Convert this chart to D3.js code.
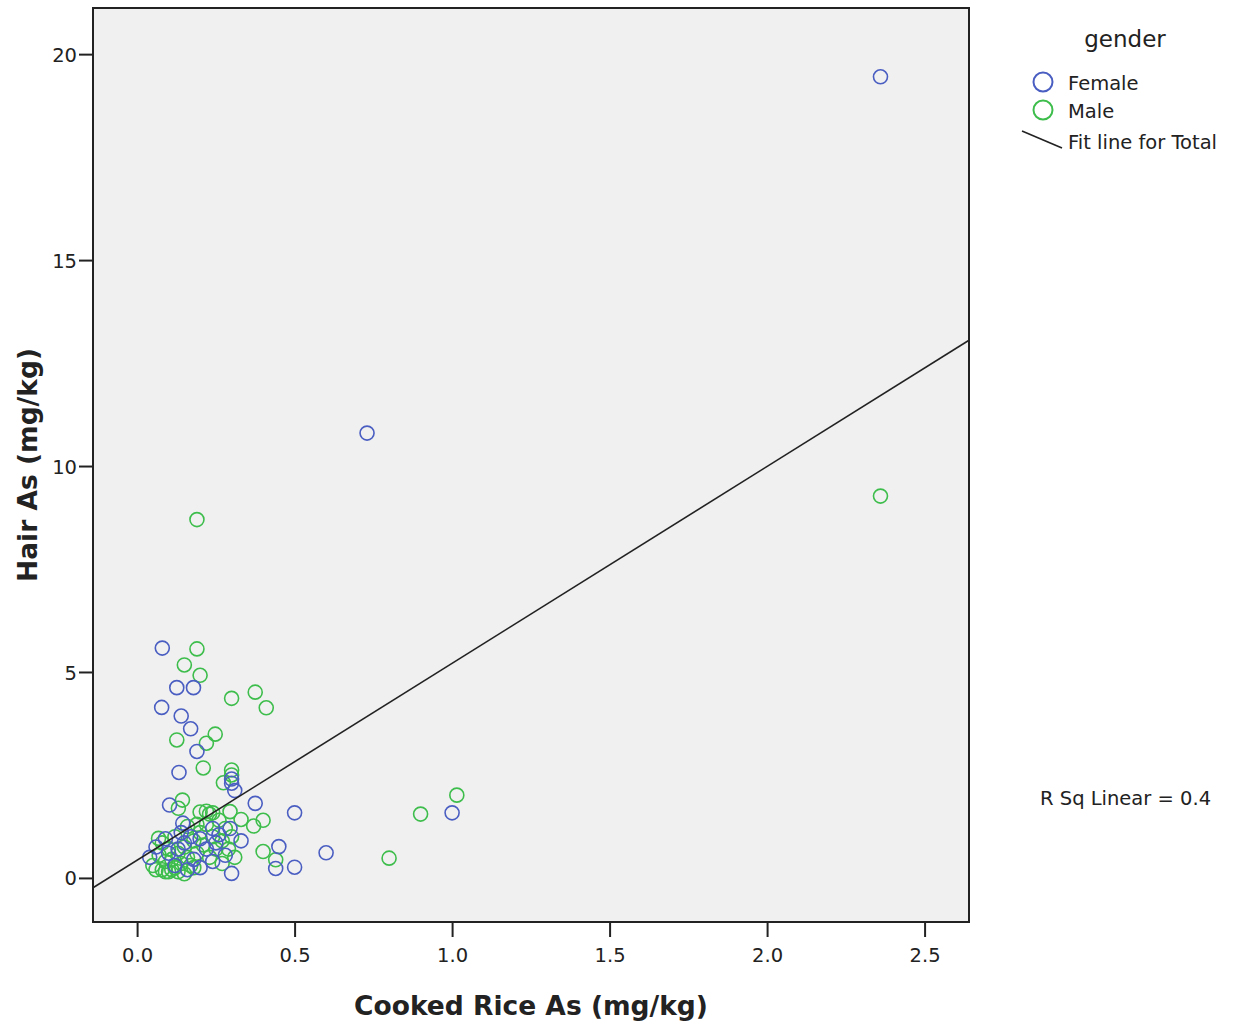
<!DOCTYPE html>
<html>
<head>
<meta charset="utf-8">
<script src="https://cdn.jsdelivr.net/npm/d3@7"></script>
<style>
  body { margin: 0; background: #fff; }
  text { font-family: "DejaVu Sans", Verdana, sans-serif; fill: #222; }
</style>
</head>
<body>
<svg id="chart" width="1246" height="1027"></svg>
<script>
// Cooked rice As (x) vs hair As (y), mg/kg
const female = [
  [2.36, 19.45], [0.73, 10.80], [0.08, 5.58], [0.126, 4.62], [0.179, 4.62],
  [0.078, 4.14], [0.14, 3.93], [0.17, 3.62], [0.19, 3.07], [0.133, 2.56],
  [0.30, 2.40], [0.31, 2.12], [0.30, 2.30], [0.103, 1.77], [0.375, 1.81],
  [0.50, 1.58], [1.00, 1.58], [0.145, 1.33], [0.295, 1.20], [0.33, 0.90],
  [0.45, 0.76], [0.60, 0.61], [0.44, 0.23], [0.50, 0.26], [0.30, 0.11],
  [0.04, 0.50], [0.06, 0.75], [0.10, 0.60], [0.14, 1.10], [0.15, 0.85],
  [0.18, 0.45], [0.20, 0.95], [0.22, 0.70], [0.24, 0.40], [0.25, 0.85],
  [0.26, 1.05], [0.12, 0.30], [0.16, 0.20], [0.28, 0.55], [0.20, 0.25],
  [0.09, 0.95], [0.24, 1.20], [0.13, 0.70], [0.17, 1.00]
];
const male = [
  [2.36, 9.27], [0.19, 8.70], [0.19, 5.56], [0.15, 5.17], [0.20, 4.92],
  [0.30, 4.36], [0.375, 4.51], [0.41, 4.13], [0.126, 3.35], [0.248, 3.49],
  [0.22, 3.27], [0.21, 2.67], [0.30, 2.62], [0.274, 2.31], [0.30, 2.50],
  [0.144, 1.89], [0.131, 1.69], [0.20, 1.60], [0.22, 1.62], [0.24, 1.58],
  [0.295, 1.61], [0.33, 1.42], [0.37, 1.26], [0.40, 1.40], [0.40, 0.64],
  [0.44, 0.44], [0.31, 0.50], [0.80, 0.48], [0.90, 1.55], [1.015, 2.01],
  [0.068, 0.96], [0.05, 0.30], [0.07, 0.55], [0.08, 0.20], [0.09, 0.40],
  [0.10, 0.15], [0.10, 0.70], [0.11, 0.45], [0.12, 0.25], [0.13, 0.60],
  [0.14, 0.35], [0.15, 0.10], [0.15, 0.75], [0.16, 0.50], [0.17, 0.30],
  [0.18, 0.90], [0.19, 0.60], [0.20, 1.10], [0.21, 0.80], [0.22, 1.30],
  [0.23, 0.50], [0.24, 1.00], [0.25, 0.70], [0.26, 1.40], [0.27, 0.90],
  [0.28, 1.20], [0.29, 0.70], [0.30, 1.00], [0.12, 1.00], [0.08, 0.85],
  [0.09, 0.15], [0.11, 0.20], [0.13, 0.15], [0.06, 0.20], [0.18, 0.25],
  [0.16, 1.25], [0.27, 0.35], [0.23, 1.55], [0.19, 1.30]
];
const xTicks = [0.0, 0.5, 1.0, 1.5, 2.0, 2.5];
const yTicks = [0, 5, 10, 15, 20];
// fit line for total: y = intercept + slope * x
const fitIntercept = 0.43;
const fitSlope = 4.78;
const rSq = 0.4;

const colors = { Female: '#4a5ec2', Male: '#3dbd4b' };

const svg = d3.select('#chart');
const plot = { left: 93, top: 8, right: 969, bottom: 922 };

const x = d3.scaleLinear().domain([-0.14, 2.641]).range([plot.left, plot.right]);
const y = d3.scaleLinear().domain([-1.07, 21.12]).range([plot.bottom, plot.top]);

svg.append('rect')
  .attr('x', plot.left).attr('y', plot.top)
  .attr('width', plot.right - plot.left).attr('height', plot.bottom - plot.top)
  .attr('fill', '#f0f0f0');

svg.append('clipPath').attr('id', 'plotClip')
  .append('rect')
  .attr('x', plot.left).attr('y', plot.top)
  .attr('width', plot.right - plot.left).attr('height', plot.bottom - plot.top);

// axes
const xAxis = svg.append('g')
  .attr('transform', 'translate(0,' + plot.bottom + ')')
  .call(d3.axisBottom(x).tickValues(xTicks).tickFormat(d3.format('.1f')).tickSize(15).tickSizeOuter(0));
const yAxis = svg.append('g')
  .attr('transform', 'translate(' + plot.left + ',0)')
  .call(d3.axisLeft(y).tickValues(yTicks).tickFormat(d3.format('d')).tickSize(14).tickSizeOuter(0));

[xAxis, yAxis].forEach(a => {
  a.select('.domain').remove();
  a.selectAll('line').attr('stroke', '#222').attr('stroke-width', 2);
  a.selectAll('text').style('font-size', '19.5px').attr('fill', '#222')
    .style('font-family', '"DejaVu Sans", Verdana, sans-serif');
});
xAxis.selectAll('text').attr('y', 40).attr('dy', 0);
yAxis.selectAll('text').attr('x', -16).attr('dy', '0.36em');

// points
const g = svg.append('g').attr('clip-path', 'url(#plotClip)');
[['Male', male], ['Female', female]].forEach(([name, pts]) => {
  g.selectAll('circle.' + name)
    .data(pts)
    .enter()
    .append('circle')
    .attr('class', name)
    .attr('cx', d => x(d[0]))
    .attr('cy', d => y(d[1]))
    .attr('r', 7)
    .attr('fill', 'none')
    .attr('stroke', colors[name])
    .attr('stroke-width', 1.6);
});

// fit line
const xd = x.domain();
g.append('line')
  .attr('x1', x(xd[0])).attr('y1', y(fitIntercept + fitSlope * xd[0]))
  .attr('x2', x(xd[1])).attr('y2', y(fitIntercept + fitSlope * xd[1]))
  .attr('stroke', '#222').attr('stroke-width', 1.6);

// frame
svg.append('rect')
  .attr('x', plot.left).attr('y', plot.top)
  .attr('width', plot.right - plot.left).attr('height', plot.bottom - plot.top)
  .attr('fill', 'none').attr('stroke', '#222').attr('stroke-width', 2);

// axis titles
svg.append('text')
  .attr('x', 531).attr('y', 1015)
  .attr('text-anchor', 'middle')
  .style('font-size', '26.5px').style('font-weight', 'bold')
  .text('Cooked Rice As (mg/kg)');
svg.append('text')
  .attr('transform', 'translate(37,465) rotate(-90)')
  .attr('text-anchor', 'middle')
  .style('font-size', '26.5px').style('font-weight', 'bold')
  .text('Hair As (mg/kg)');

// legend
const legend = svg.append('g');
legend.append('text').attr('x', 1125).attr('y', 47)
  .attr('text-anchor', 'middle').style('font-size', '23px').text('gender');
[['Female', 82], ['Male', 110]].forEach(([name, cy]) => {
  legend.append('circle').attr('cx', 1043).attr('cy', cy).attr('r', 9.5)
    .attr('fill', 'none').attr('stroke', colors[name]).attr('stroke-width', 2);
  legend.append('text').attr('x', 1068).attr('y', cy + 8)
    .style('font-size', '19.5px').text(name);
});
legend.append('line')
  .attr('x1', 1022).attr('y1', 131).attr('x2', 1062).attr('y2', 148)
  .attr('stroke', '#222').attr('stroke-width', 1.6);
legend.append('text').attr('x', 1068).attr('y', 149)
  .style('font-size', '19.5px').text('Fit line for Total');

svg.append('text').attr('x', 1040).attr('y', 805)
  .style('font-size', '19.5px').text('R Sq Linear = ' + rSq);
</script>
</body>
</html>
